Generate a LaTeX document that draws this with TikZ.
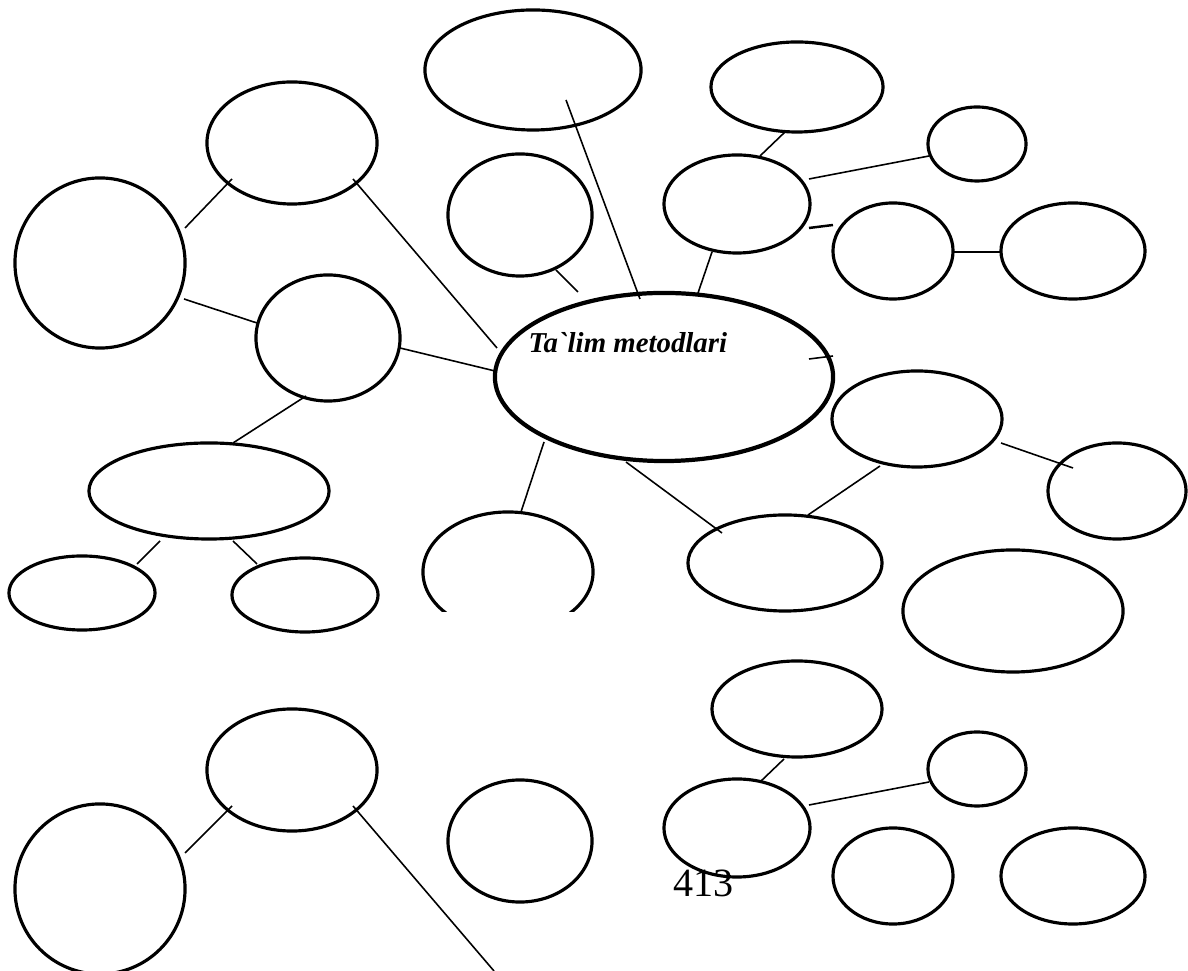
\documentclass[tikz,border=0pt]{standalone}
\usepackage{fontspec}
\setmainfont{Liberation Serif}
\usetikzlibrary{shapes.geometric}
\begin{document}
\begin{tikzpicture}[x=0.01cm,y=-0.01cm,
  ov/.style 2 args={ellipse,draw,line width=0.9pt,minimum width=#1,minimum height=#2,inner sep=0pt,outer sep=0pt},
  conn/.style={line width=0.45pt,line cap=butt}]
\useasboundingbox (0,0) rectangle (1188,971);
\clip (0,0) rectangle (1188,971);
% ---------------- top section ----------------
\node[ov={2.16cm}{1.20cm}] (e1) at (533,70) {};
\node[ov={1.72cm}{0.90cm}] (e2) at (797,87) {};
\node[ov={0.98cm}{0.74cm}] (e3) at (977,144) {};
\node[ov={1.46cm}{0.98cm}] (e4) at (737,204) {};
\node[ov={1.20cm}{0.96cm}] (e5) at (893,251) {};
\node[ov={1.44cm}{0.96cm}] (e6) at (1073,251) {};
\node[ov={1.70cm}{1.22cm}] (tl) at (292,143) {};
\node[ov={1.70cm}{1.70cm}] (big) at (100,263) {};
\node[ov={1.44cm}{1.22cm}] (ci) at (520,215) {};
\node[ov={1.44cm}{1.26cm}] (mid) at (328,338) {};
\node[ov={2.40cm}{0.96cm}] (ll) at (209,491) {};
\node[ov={1.46cm}{0.74cm}] (sl) at (82,593) {};
\node[ov={1.46cm}{0.74cm}] (sr) at (305,595) {};
\node[ov={3.38cm}{1.68cm},line width=1.2pt] (cen) at (664,377) {};
\begin{scope}
  \clip (400,480) rectangle (620,612);
  \node[ov={1.70cm}{1.20cm}] (cut) at (508,572) {};
\end{scope}
\node[ov={1.70cm}{0.96cm}] (r1) at (917,419) {};
\node[ov={1.38cm}{0.96cm}] (r2) at (1117,491) {};
\node[ov={1.94cm}{0.96cm}] (r3) at (785,563) {};
\node[ov={2.20cm}{1.22cm}] (r4) at (1013,611) {};
\node[anchor=base west,inner sep=0pt,font=\fontsize{8.2}{10}\selectfont\bfseries\itshape] (title) at (528,353) {Ta\textasciigrave lim metodlari};
% ---------------- bottom section ----------------
\node[ov={1.70cm}{1.22cm}] (btl) at (292,770) {};
\node[ov={1.70cm}{1.70cm}] (bbig) at (100,889) {};
\node[ov={1.44cm}{1.22cm}] (bci) at (520,841) {};
\node[ov={1.70cm}{0.96cm}] (b1) at (797,709) {};
\node[ov={0.98cm}{0.74cm}] (b2) at (977,769) {};
\node[ov={1.46cm}{0.98cm}] (b3) at (737,828) {};
\node[ov={1.20cm}{0.96cm}] (b4) at (893,876) {};
\node[ov={1.44cm}{0.96cm}] (b5) at (1073,876) {};
\node[anchor=base west,inner sep=0pt,font=\fontsize{11.4}{13}\selectfont] (pg) at (673,897) {413};
% ---------------- connector end points ----------------
\coordinate (c1a) at (785,132);  \coordinate (c1b) at (760,156);
\coordinate (c2a) at (809,179);  \coordinate (c2b) at (929,156);
\coordinate (c3a) at (809,228);  \coordinate (c3b) at (833,225);
\coordinate (c4a) at (953,252);  \coordinate (c4b) at (1001,252);
\coordinate (c5a) at (712,252);  \coordinate (c5b) at (698,293);
\coordinate (c6a) at (566,100);  \coordinate (c6b) at (640,299);
\coordinate (c7a) at (556,270);  \coordinate (c7b) at (578,292);
\coordinate (c8a) at (353,179);  \coordinate (c8b) at (497,348);
\coordinate (c9a) at (185,228);  \coordinate (c9b) at (232,179);
\coordinate (c10a) at (184,299); \coordinate (c10b) at (257,323);
\coordinate (c11a) at (400,348); \coordinate (c11b) at (495,371);
\coordinate (c12a) at (306,396); \coordinate (c12b) at (233,443);
\coordinate (c13a) at (160,541); \coordinate (c13b) at (137,564);
\coordinate (c14a) at (233,541); \coordinate (c14b) at (257,564);
\coordinate (c15a) at (544,442); \coordinate (c15b) at (521,512);
\coordinate (c16a) at (626,462); \coordinate (c16b) at (722,533);
\coordinate (c17a) at (809,359); \coordinate (c17b) at (833,356);
\coordinate (c18a) at (880,466); \coordinate (c18b) at (808,515);
\coordinate (c19a) at (1001,443);\coordinate (c19b) at (1073,468);
\coordinate (c20a) at (185,853); \coordinate (c20b) at (232,806);
\coordinate (c21a) at (353,806); \coordinate (c21b) at (494,971);
\coordinate (c22a) at (784,759); \coordinate (c22b) at (760,782);
\coordinate (c23a) at (809,805); \coordinate (c23b) at (929,782);
% ---------------- connectors ----------------
\draw[conn] (c1a) -- (c1b);
\draw[conn] (c2a) -- (c2b);
\draw[conn,line width=0.7pt] (c3a) -- (c3b);
\draw[conn] (c4a) -- (c4b);
\draw[conn] (c5a) -- (c5b);
\draw[conn] (c6a) -- (c6b);
\draw[conn] (c7a) -- (c7b);
\draw[conn] (c8a) -- (c8b);
\draw[conn] (c9a) -- (c9b);
\draw[conn] (c10a) -- (c10b);
\draw[conn] (c11a) -- (c11b);
\draw[conn] (c12a) -- (c12b);
\draw[conn] (c13a) -- (c13b);
\draw[conn] (c14a) -- (c14b);
\draw[conn] (c15a) -- (c15b);
\draw[conn] (c16a) -- (c16b);
\draw[conn] (c17a) -- (c17b);
\draw[conn] (c18a) -- (c18b);
\draw[conn] (c19a) -- (c19b);
\draw[conn] (c20a) -- (c20b);
\draw[conn] (c21a) -- (c21b);
\draw[conn] (c22a) -- (c22b);
\draw[conn] (c23a) -- (c23b);
\end{tikzpicture}
\end{document}
